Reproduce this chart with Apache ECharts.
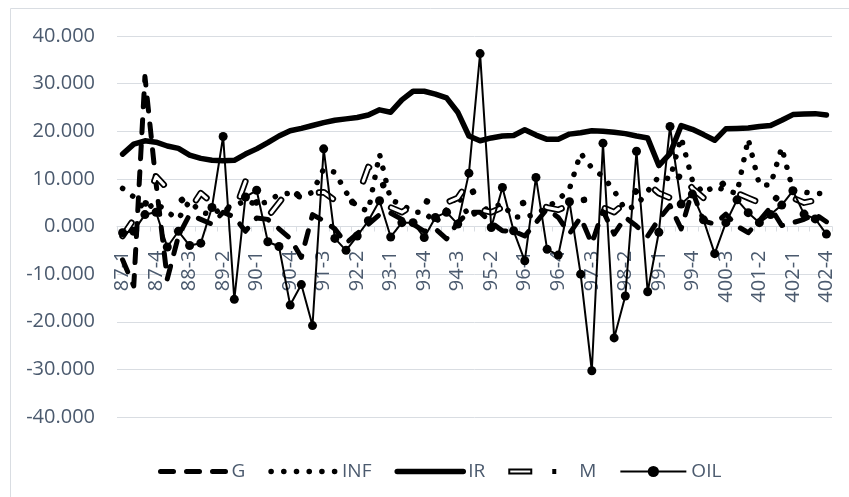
<!DOCTYPE html>
<html>
<head>
<meta charset="utf-8">
<script src="https://cdn.jsdelivr.net/npm/echarts@6/dist/echarts.min.js"></script>
<style>
  html, body { margin: 0; padding: 0; background: #fff; }
  #main { width: 849px; height: 497px; }
</style>
</head>
<body>
<div id="main"></div>
<script>
// quarters 87-1 .. 402-4
var categories = [
  '87-1','87-2','87-3','87-4','88-1','88-2','88-3','88-4',
  '89-1','89-2','89-3','89-4','90-1','90-2','90-3','90-4',
  '91-1','91-2','91-3','91-4','92-1','92-2','92-3','92-4',
  '93-1','93-2','93-3','93-4','94-1','94-2','94-3','94-4',
  '95-1','95-2','95-3','95-4','96-1','96-2','96-3','96-4',
  '97-1','97-2','97-3','97-4','98-1','98-2','98-3','98-4',
  '99-1','99-2','99-3','99-4','400-1','400-2','400-3','400-4',
  '401-1','401-2','401-3','401-4','402-1','402-2','402-3','402-4'
];

var gData = [
  -7, -12.5, 31.5, 9, -11, -2, 2.5, 1.5, 0.5, 3,
  2, -1, 1.8, 1.5, -0.5, -2.5, -6.5, 2.5, 1.2, -0.5,
  -3.5, -1.5, 0.5, 2.5, 2.8, 1.5, 0.5, -1, -0.5, -2.6,
  0.8, 3, 3, 0.8, -0.9, -1, -2, 0.8, 3.7, 1.9,
  -1.5, 1.9, -3.6, 3.3, -1.6, 1.9, 0.1, -2, 1.5, 4.4,
  -0.5, 7.5, 1.2, 0.5, 2.6, 0.1, -1.3, 1.2, 4, 0.2,
  0.8, 1.5, 2.6, 1
];

var infData = [
  8.0, 6.2, 3.5, 5.0, 3.0, 1.6, 5.4, 3.0, 2.5, 4.0,
  4.2, 5.5, 4.6, 5.2, 6.8, 7.0, 6.1, 7.2, 12.1, 11.4,
  7.2, 4.0, 3.3, 15.2, 5.5, 4.7, 3.0, 3.0, 0.8, 3.5,
  6.7, 2.0, 3.3, 4.0, 4.7, 2.0, 2.0, 2.6, 4.0, 5.6,
  7.9, 15.4, 12.3, 10.5, 7.5, 3.5, 4.4, 7.4, 10.5, 10.0,
  18.7, 9.7, 7.0, 8.5, 7.5, 7.0, 18.4, 8.7, 8.7, 16.6,
  7.6, 7.2, 6.9, 7.0
];

var irData = [
  15.2, 17.3, 18.0, 17.7, 16.9, 16.4, 15.0, 14.3, 13.9, 13.8,
  13.9, 15.2, 16.3, 17.6, 19.0, 20.1, 20.6, 21.2, 21.8, 22.3,
  22.6, 22.9, 23.4, 24.5, 24.0, 26.6, 28.4, 28.4, 27.8, 27.0,
  24.0, 19.0, 18.0, 18.6, 19.0, 19.1, 20.3, 19.2, 18.3, 18.3,
  19.4, 19.7, 20.1, 20.0, 19.8, 19.5, 19.0, 18.6, 12.8, 15.3,
  21.2, 20.4, 19.3, 18.1, 20.5, 20.6, 20.7, 21.0, 21.2, 22.3,
  23.5, 23.6, 23.7, 23.4
];

var mData = [
  -2, 1.5, 4.5, 10.5, 8, 6.5, 3.5, 7, 5, 4,
  3, 9.5, 5, 2, 5, 8, 6, 7, 7.2, 5.5,
  4, 6, 12.5, 11, 4, 3, 4.5, 5.5, 4.5, 5,
  6, 9.5, 3.5, 3, 4, 4.5, 5, 5, 4, 3.5,
  4.5, 5.5, 5.8, 4, 3, 5, 7.5, 9, 7, 6,
  11.5, 8, 6, 7.5, 9.5, 7, 6, 5, 4.7, 7.2,
  6, 5, 5.5, 4.7
];

var oilData = [
  -1.3, -1.0, 2.5, 3.0, -4.3, -1.0, -4.0, -3.5, 4.0, 18.9,
  -15.3, 6.2, 7.6, -3.2, -4.2, -16.5, -12.2, -20.8, 16.3, -2.5,
  -5.0, -2.0, 1.2, 5.4, -2.2, 0.8, 0.8, -2.3, 1.9, 3.0,
  0.5, 11.2, 36.3, -0.2, 8.2, -0.9, -7.2, 10.3, -4.8, -6.0,
  5.2, -10.0, -30.3, 17.5, -23.4, -14.6, 15.8, -13.7, -1.2, 21.0,
  4.7, 6.8, 1.4, -5.7, 0.8, 5.6, 2.9, 0.8, 2.5, 4.5,
  7.5, 2.6, 1.6, -1.6
];

var textColor = '#4b5a6e';
var gridColor = '#d9dde2';
var font = 'Open Sans';

// outlined capsule + dot for the M legend icon
var mIcon = 'path://M0,0 L0,0 M0,4 L24,4 L24,10 L0,10 Z M2,6 L2,8 L22,8 L22,6 Z M44,4.5 L48,4.5 L48,9.5 L44,9.5 Z M66,14 L66,14';

var myChart = echarts.init(document.getElementById('main'));

// grid spans y 36..417, zero sits at the middle
var gridTop = 36, gridBottom = 80;
var plotH = 497 - gridTop - gridBottom;

var option = {
  animation: false,
  graphic: [{
    type: 'rect',
    shape: { x: 10.5, y: 8.5, width: 860, height: 520 },
    style: { fill: 'none', stroke: gridColor, lineWidth: 1 },
    silent: true
  }],
  grid: { left: 117, right: 17, top: gridTop, bottom: gridBottom, containLabel: false },
  legend: {
    data: [
      { name: 'G', itemStyle: { opacity: 0 } },
      { name: 'INF', itemStyle: { opacity: 0 } },
      { name: 'IR', itemStyle: { opacity: 0 } },
      { name: 'M', icon: mIcon, itemStyle: { color: '#000', borderWidth: 0 } },
      'OIL'
    ],
    left: 153,
    top: 457,
    itemWidth: 66,
    itemHeight: 14,
    itemGap: 23,
    symbolKeepAspect: false,
    lineStyle: { width: 'inherit' },
    textStyle: { fontSize: 19, color: textColor, fontFamily: font }
  },
  xAxis: {
    type: 'category',
    data: categories,
    boundaryGap: true,
    position: 'bottom',
    offset: -plotH / 2,
    axisLine: { onZero: false, lineStyle: { color: gridColor, width: 1 } },
    axisTick: { show: true, interval: 0, length: 5, lineStyle: { color: gridColor } },
    axisLabel: { interval: 2, rotate: 90, margin: 24, fontSize: 20, color: textColor, fontFamily: font },
    splitLine: { show: false }
  },
  yAxis: {
    type: 'value',
    min: -40,
    max: 40,
    interval: 10,
    axisLine: { show: false },
    axisTick: { show: false },
    axisLabel: {
      margin: 22, fontSize: 20, color: textColor, fontFamily: font,
      formatter: function (v) { return v.toFixed(3); }
    },
    splitLine: { lineStyle: { color: gridColor, width: 1 } }
  },
  series: [
    {
      name: 'G', type: 'line', data: gData, symbol: 'none', z: 2,
      lineStyle: { color: '#000', width: 5, type: [13, 13], cap: 'round', join: 'round' },
      itemStyle: { color: '#000' }
    },
    {
      name: 'INF', type: 'line', data: infData, symbol: 'none', z: 3,
      lineStyle: { color: '#000', width: 5.5, type: [0.1, 12.6], cap: 'round', join: 'round' },
      itemStyle: { color: '#000' }
    },
    {
      name: 'IR', type: 'line', data: irData, symbol: 'none', z: 4,
      lineStyle: { color: '#000', width: 5.5, cap: 'round', join: 'round' },
      itemStyle: { color: '#000' }
    },
    {
      name: 'M', type: 'line', data: mData, symbol: 'none', z: 5,
      lineStyle: { color: '#000', width: 6.5, type: [16, 24, 0.1, 24], cap: 'round', join: 'round' },
      itemStyle: { color: '#000' }
    },
    {
      name: 'M_fill', type: 'line', data: mData, symbol: 'none', z: 6, silent: true,
      lineStyle: { color: '#fff', width: 3, type: [16, 48.1], cap: 'round', join: 'round' },
      itemStyle: { color: '#fff' }
    },
    {
      name: 'OIL', type: 'line', data: oilData, symbol: 'circle', symbolSize: 9, z: 7,
      showAllSymbol: true,
      lineStyle: { color: '#000', width: 2 },
      itemStyle: { color: '#000' }
    }
  ]
};

myChart.setOption(option);
</script>
</body>
</html>
